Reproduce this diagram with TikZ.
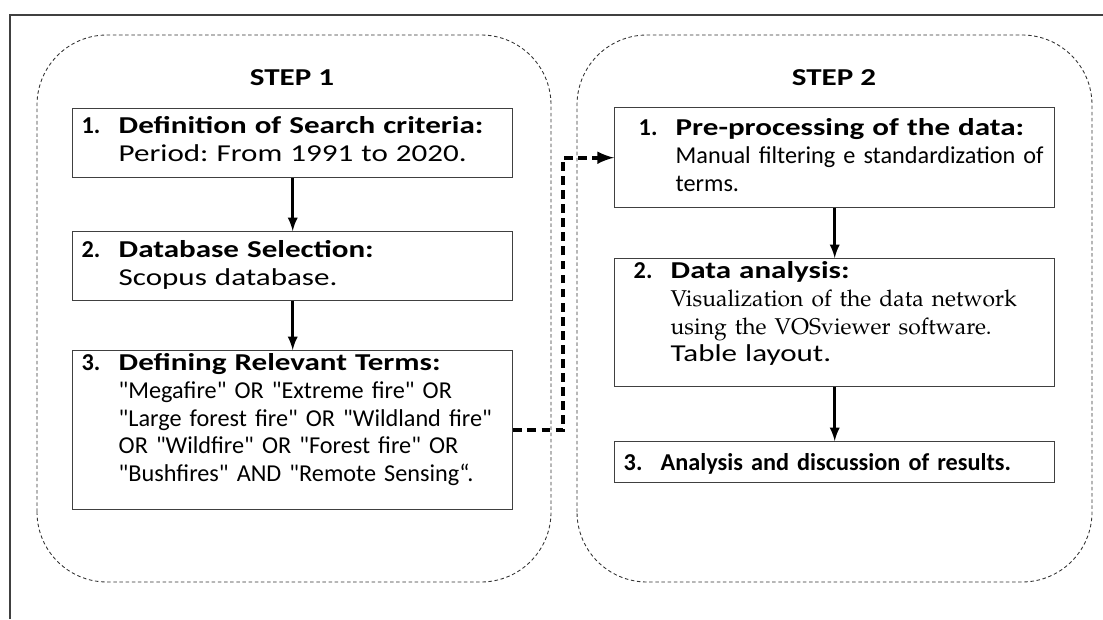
\documentclass[tikz,border=0pt]{standalone}
\usepackage{fontspec}
\setmainfont{Carlito}
\newfontfamily\wide{Carlito}[FakeStretch=1.28]
\usepackage{tikz}
\tikzset{>=latex}
\definecolor{cbox}{gray}{.25}
\definecolor{cgrp}{gray}{.2}
\newcommand*{\fs}{\fontsize{13.8}{15.8}\selectfont\frenchspacing}
\newcommand*{\pal}{\fontencoding{T1}\fontfamily{ppl}\fontsize{13}{15.8}\selectfont}
\newcommand*{\hd}[1]{{\wide\textbf{#1}}}
\newcommand*{\qt}[1]{\textquotedbl#1\textquotedbl}
\newcommand*{\stepbody}[3][0cm]{%
    \begin{tabular}[t]{@{\hspace{#1}}p{.74cm}@{}l@{}}\textbf{#2} & #3\end{tabular}}
\tikzset{
    box/.style={draw=cbox, line width=.8pt, anchor=north west, inner xsep=.18cm,
        inner ysep=0pt, text width=8.44cm, align=left, font=\fs},
    grp/.style={draw=cgrp, line width=.5pt, dash pattern=on 2pt off 1.5pt, rounded corners=1.4cm},
    flow/.style={->, line width=1.6pt},
    link/.style={->, line width=2.2pt, dash pattern=on 5pt off 3pt}
}

\begin{document}
\begin{tikzpicture}
    \useasboundingbox(0, 0)rectangle(22.06, 12.38);
    \draw[line width=.8pt, cbox](.2, 0)--(.2, 12.08)--(22.06, 12.08);
    \draw[grp](.74, .74)rectangle(11.02, 11.68);
    \draw[grp](11.54, .74)rectangle(21.84, 11.68);
    \node[font=\fs\wide\bfseries] (t1) at (5.84, 10.82) {STEP 1};
    \node[font=\fs\wide\bfseries] (t2) at (16.68, 10.82) {STEP 2};
    % step 1
    \node[box, text height=.5cm, text depth=.88cm] (s1a) at (1.44, 10.22)
        {\stepbody{1.}{\hd{Definition of Search criteria:}\\ & {\wide Period: From 1991 to 2020.}}};
    \node[box, text height=.52cm, text depth=.86cm] (s1b) at (1.44, 7.76)
        {\stepbody{2.}{\hd{Database Selection:}\\ & {\wide Scopus database.}}};
    \node[box, text height=.4cm, text depth=2.78cm] (s1c) at (1.44, 5.38)
        {\stepbody{3.}{\hd{Defining Relevant Terms:}\\
        & \qt{Megafire} OR \qt{Extreme fire} OR\\
        & \qt{Large forest fire} OR \qt{Wildland fire}\\
        & OR \qt{Wildfire} OR \qt{Forest fire} OR\\
        & \qt{Bushfires} AND \textquotedbl Remote Sensing“.}};
    % step 2
    \node[box, text height=.56cm, text depth=1.44cm] (s2a) at (12.28, 10.24)
        {\stepbody[.3cm]{1.}{\hd{Pre-processing of the data:}\\
        & Manual filtering e standardization of\\ & terms.}};
    \node[box, text height=.4cm, text depth=2.16cm] (s2b) at (12.28, 7.22)
        {\stepbody[.2cm]{2.}{\hd{Data analysis:}\\
        & {\pal Visualization  of the data network}\\
        & {\pal using  the VOSviewer  software.}\\
        & {\wide Table layout.}}};
    \node[box, text height=.58cm, text depth=.24cm] (s2c) at (12.28, 3.56)
        {\stepbody{3.}{\textbf{Analysis and discussion of results.}}};
    \draw[flow](s1a.south)--(s1b.north);
    \draw[flow](s1b.south)--(s1c.north);
    \draw[flow](s2a.south)--(s2b.north);
    \draw[flow](s2b.south)--(s2c.north);
    \draw[link](s1c.east)--++(1, 0)|-(s2a.west);
\end{tikzpicture}
\end{document}
